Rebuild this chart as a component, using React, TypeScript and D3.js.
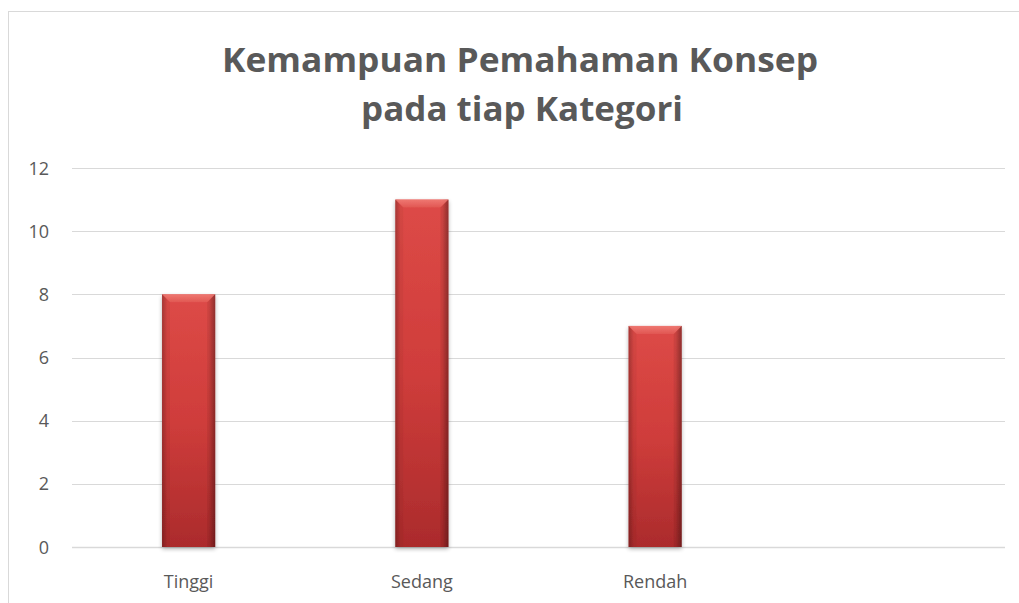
import React from "react";
import * as d3 from "d3";

const categories = ["Tinggi", "Sedang", "Rendah", ""];
const values = [8, 11, 7, null];
const yTicks = [0, 2, 4, 6, 8, 10, 12];
const titleLines = ["Kemampuan Pemahaman Konsep", "pada tiap Kategori"];

const W = 1019;
const H = 603;
const FONT = "Open Sans, Noto Sans, Liberation Sans, sans-serif";

export default function App() {
  const x = d3
    .scaleBand<string>()
    .domain(categories)
    .range([72, 1005])
    .paddingInner(0.772)
    .paddingOuter(0.386);
  const y = d3.scaleLinear().domain([0, 12]).range([547, 168]);
  const bw = x.bandwidth();
  const bev = 8;

  return (
    <div style={{ position: "absolute", left: 0, top: 0 }}>
      <svg width={W} height={H} style={{ display: "block" }}>
        <defs>
          <linearGradient id="barV" x1="0" y1="0" x2="0" y2="1">
            <stop offset="0" stopColor="#dd4a47" />
            <stop offset="0.5" stopColor="#cf3d3b" />
            <stop offset="1" stopColor="#ab2b2c" />
          </linearGradient>
          <linearGradient id="barH" x1="0" y1="0" x2="1" y2="0">
            <stop offset="0" stopColor="#000" stopOpacity="0.22" />
            <stop offset="0.1" stopColor="#000" stopOpacity="0.0" />
            <stop offset="0.88" stopColor="#000" stopOpacity="0.0" />
            <stop offset="1" stopColor="#000" stopOpacity="0.3" />
          </linearGradient>
          <linearGradient id="bevTop" x1="0" y1="0" x2="0" y2="1">
            <stop offset="0" stopColor="#f3837c" />
            <stop offset="1" stopColor="#e25a55" />
          </linearGradient>
          <filter id="shadow" x="-20%" y="-5%" width="140%" height="110%">
            <feGaussianBlur in="SourceAlpha" stdDeviation="2" />
            <feOffset dx="0" dy="2" result="b" />
            <feComponentTransfer>
              <feFuncA type="linear" slope="0.3" />
            </feComponentTransfer>
            <feMerge>
              <feMergeNode />
              <feMergeNode in="SourceGraphic" />
            </feMerge>
          </filter>
        </defs>
        <rect x={0} y={0} width={W} height={H} fill="#fff" />
        <rect
          x={8.5}
          y={11.5}
          width={1030}
          height={620}
          fill="#fff"
          stroke="#d9d9d9"
          strokeWidth={1}
        />
        <text
          x={520}
          y={72}
          textAnchor="middle"
          fontFamily={FONT}
          fontWeight="bold"
          fontSize={34}
          fill="#595959"
          textLength={596}
          lengthAdjust="spacingAndGlyphs"
        >
          {titleLines[0]}
        </text>
        <text
          x={522}
          y={121}
          textAnchor="middle"
          fontFamily={FONT}
          fontWeight="bold"
          fontSize={34}
          fill="#595959"
          textLength={322}
          lengthAdjust="spacingAndGlyphs"
        >
          {titleLines[1]}
        </text>
        {yTicks.map((t) => (
          <g key={t}>
            <line
              x1={72}
              x2={1005}
              y1={Math.round(y(t)) + 0.5}
              y2={Math.round(y(t)) + 0.5}
              stroke="#d9d9d9"
              strokeWidth={t === 0 ? 1.5 : 1}
            />
            <text
              x={49}
              y={y(t) + 6.5}
              textAnchor="end"
              fontFamily={FONT}
              fontSize={18}
              fill="#595959"
            >
              {t}
            </text>
          </g>
        ))}
        {categories.map((c, i) => {
          const v = values[i];
          if (v == null) return null;
          const x0 = x(c)!;
          const y0 = y(v);
          const y1 = y(0);
          return (
            <g key={c} filter="url(#shadow)">
              <rect x={x0} y={y0} width={bw} height={y1 - y0} fill="url(#barV)" />
              <rect x={x0} y={y0} width={bw} height={y1 - y0} fill="url(#barH)" />
              <polygon
                points={`${x0},${y0} ${x0 + bw},${y0} ${x0 + bw - bev},${y0 + bev} ${x0 + bev},${y0 + bev}`}
                fill="url(#bevTop)"
                opacity={0.8}
              />
              <polygon
                points={`${x0},${y0} ${x0 + bev},${y0 + bev} ${x0 + bev},${y1} ${x0},${y1}`}
                fill="#000"
                opacity={0.04}
              />
              <polygon
                points={`${x0 + bw},${y0} ${x0 + bw - bev},${y0 + bev} ${x0 + bw - bev},${y1} ${x0 + bw},${y1}`}
                fill="#000"
                opacity={0.07}
              />
            </g>
          );
        })}
        {categories.map((c) =>
          c ? (
            <text
              key={c}
              x={x(c)! + bw / 2}
              y={588}
              textAnchor="middle"
              fontFamily={FONT}
              fontSize={18}
              fill="#595959"
            >
              {c}
            </text>
          ) : null
        )}
      </svg>
    </div>
  );
}
